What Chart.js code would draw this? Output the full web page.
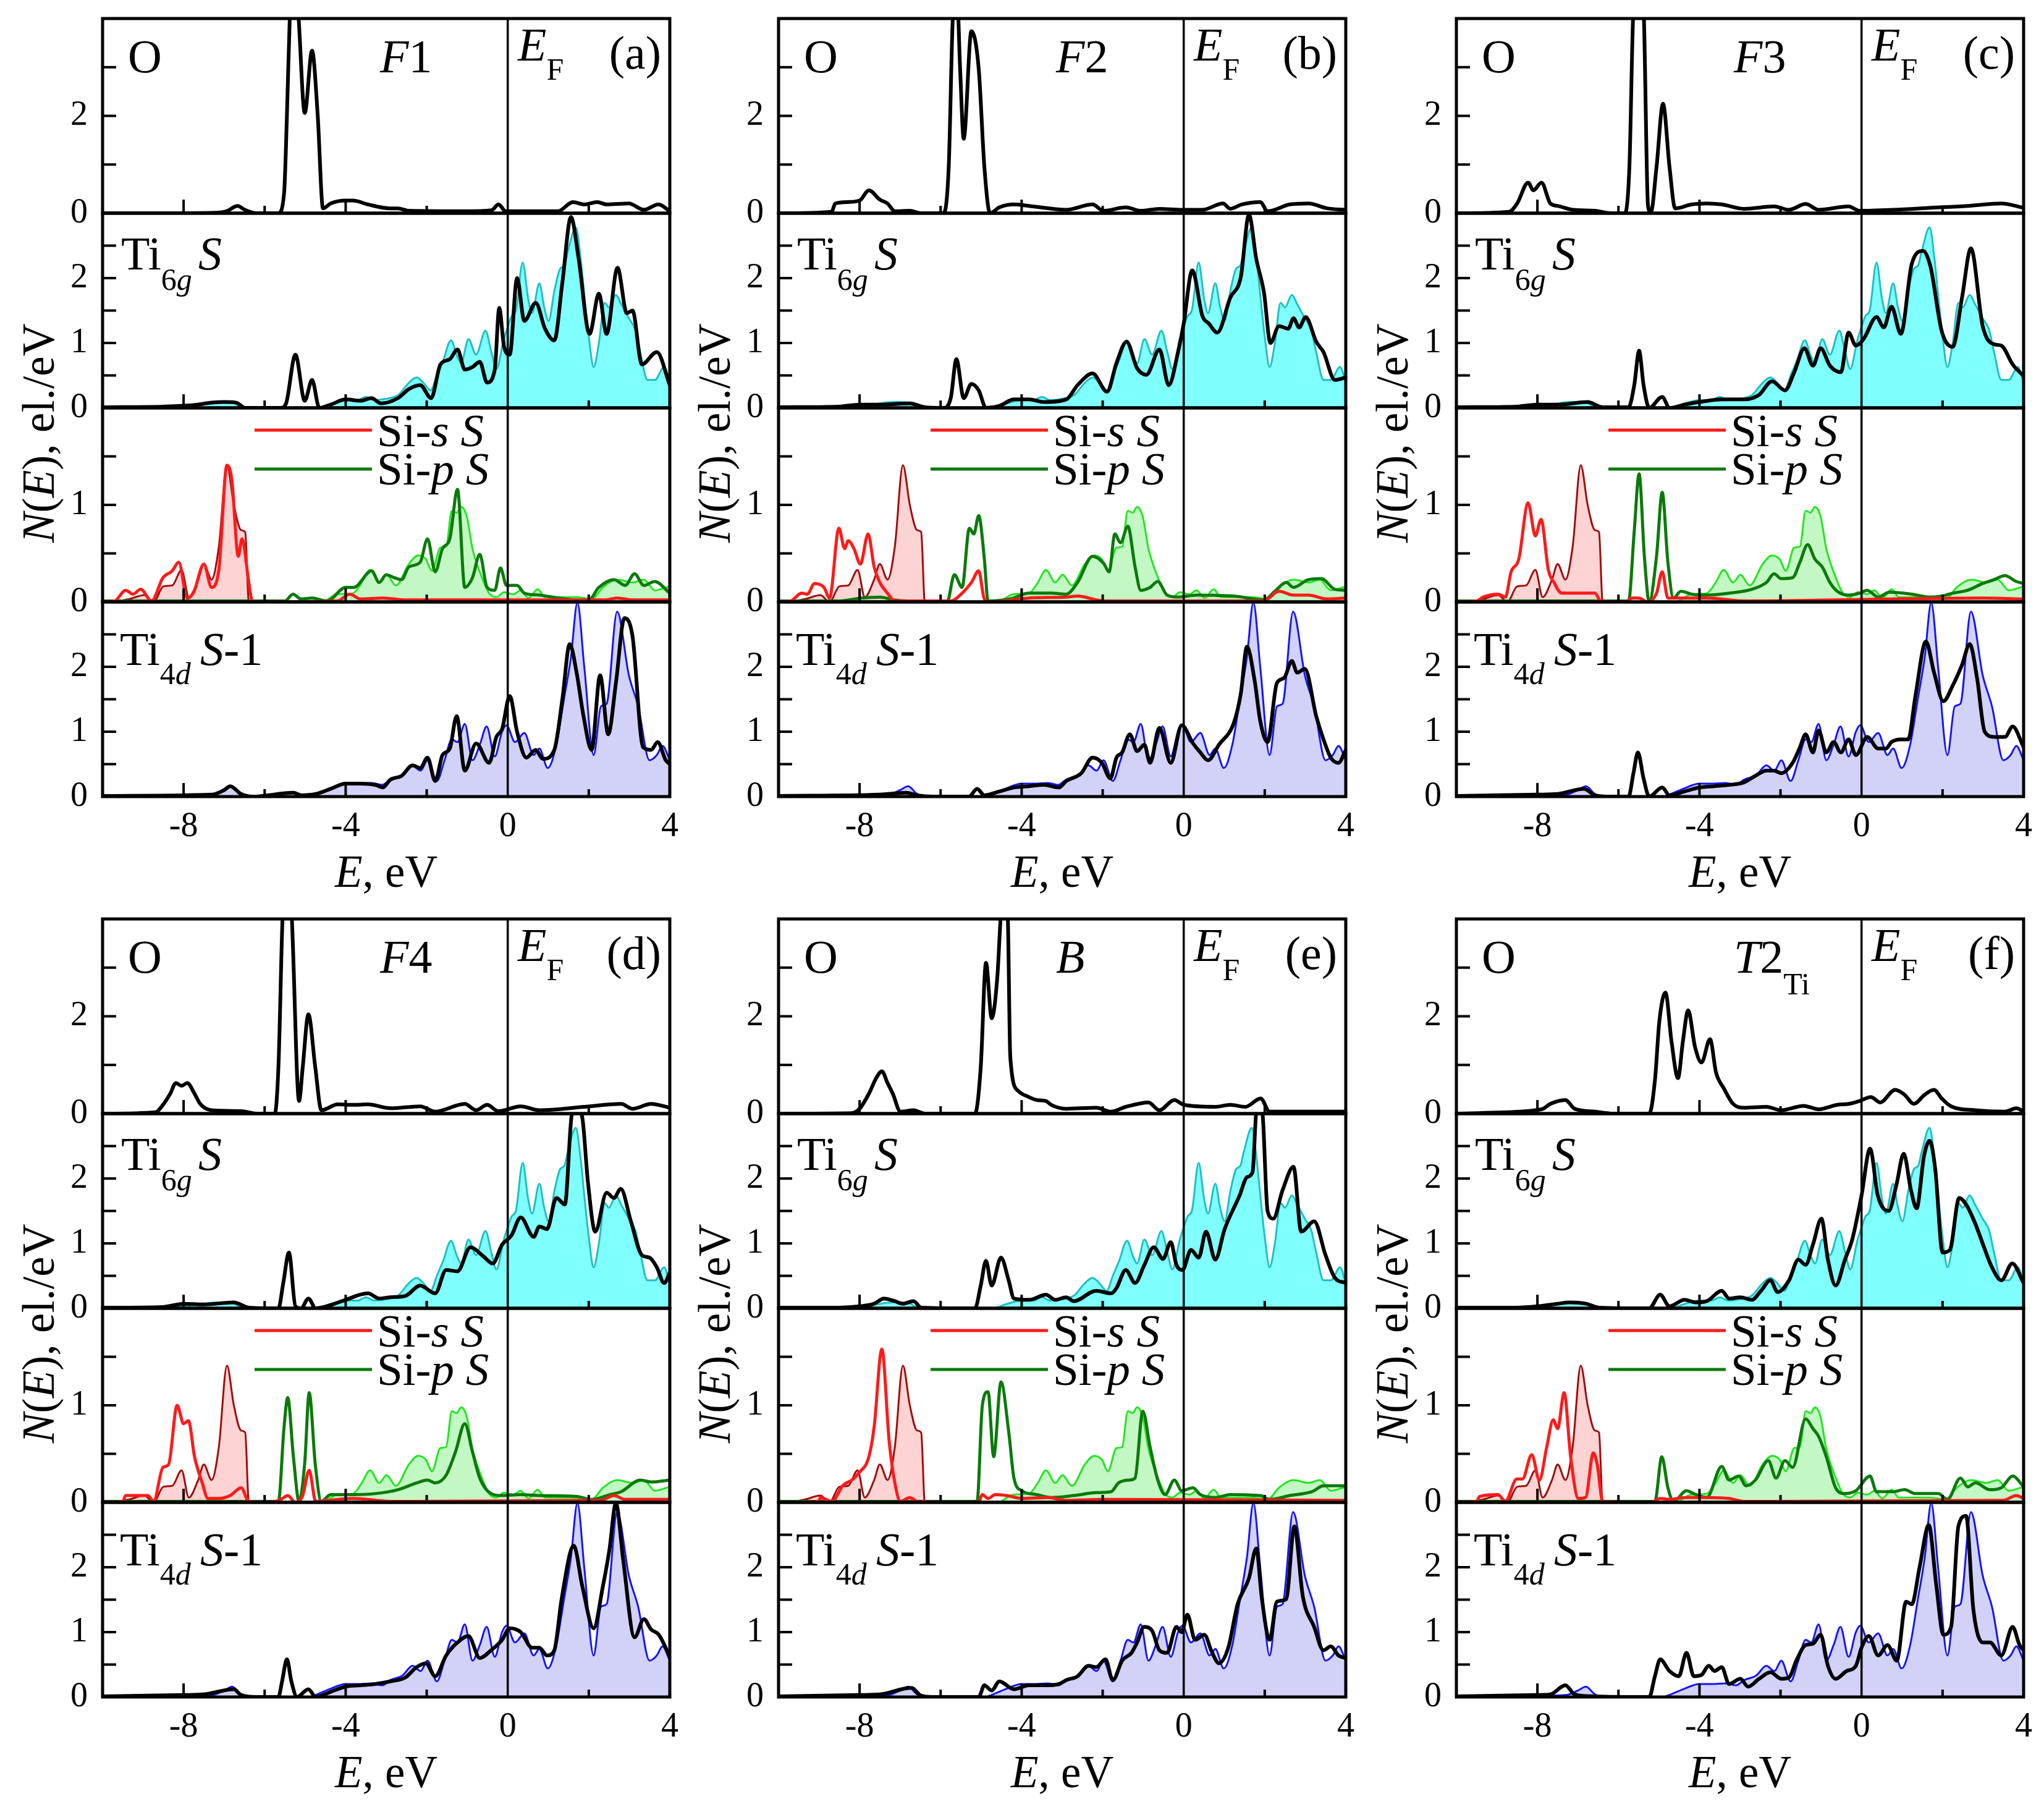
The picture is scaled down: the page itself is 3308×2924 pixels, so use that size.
<!DOCTYPE html>
<html><head><meta charset="utf-8">
<script src="https://cdn.jsdelivr.net/npm/chart.js@4/dist/chart.umd.min.js"></script>
<style>
html,body{margin:0;padding:0;background:#fff;}
#wrap{position:relative;width:3308px;height:2924px;overflow:hidden;background:#fff;}
canvas{position:absolute;}
</style></head><body><div id="wrap"></div>
<script>
// ---------- tick labels / categories ----------
const X_LABELED = [-8, -4, 0, 4];
const X_MARKS = [-8, -6, -4, -2, 2];
const Y_O_LABELS = [0, 2];
const Y_T6_LABELS = [0, 1, 2];
const Y_SI_LABELS = [0, 1];
const Y_T4_LABELS = [0, 1, 2];
const PANEL_LETTERS = ['(a)', '(b)', '(c)', '(d)', '(e)', '(f)'];
const STRUCTURES = ['F1', 'F2', 'F3', 'F4', 'B', 'T2Ti'];

// ---------- reference curves (same in all panels) ----------
const refTi6g = [[-10,0],[-9,0.01],[-8,0.03],[-7.6,0.06],[-7.2,0.09],[-6.8,0.08],[-6.6,0.02],[-6.4,0],[-4.7,0],[-4.4,0.06],[-4.0,0.12],[-3.7,0.12],[-3.5,0.17],[-3.3,0.12],[-3.0,0.14],[-2.7,0.2],[-2.45,0.38],[-2.25,0.47],[-2.1,0.4],[-1.9,0.27],[-1.75,0.5],[-1.6,0.72],[-1.4,1.04],[-1.25,0.8],[-1.15,0.69],[-0.97,1.06],[-0.78,0.82],[-0.55,1.19],[-0.4,0.85],[-0.28,0.6],[-0.1,1.05],[0,1.25],[0.1,1.42],[0.2,1.5],[0.37,2.24],[0.5,1.7],[0.6,1.46],[0.78,1.92],[0.9,1.55],[1.01,1.34],[1.15,1.8],[1.29,2.14],[1.4,2.2],[1.48,2.4],[1.68,2.78],[1.8,2.3],[1.89,1.74],[2.0,1.1],[2.12,0.63],[2.25,1.0],[2.39,1.62],[2.5,1.55],[2.67,1.74],[2.8,1.6],[2.99,1.38],[3.15,1.2],[3.27,0.86],[3.45,0.43],[3.63,0.43],[3.86,0.63],[4,0.39]];
const refTi4d = [[-10,0.01],[-8,0.02],[-7.3,0.03],[-7.0,0.1],[-6.8,0.16],[-6.6,0.05],[-6.4,0],[-4.9,0],[-4.75,0.03],[-4.4,0.12],[-4.0,0.2],[-3.7,0.2],[-3.35,0.21],[-3.1,0.18],[-2.9,0.26],[-2.6,0.33],[-2.35,0.48],[-2.15,0.4],[-1.98,0.56],[-1.75,0.24],[-1.56,0.56],[-1.38,0.88],[-1.24,0.84],[-1.06,1.12],[-0.87,0.56],[-0.69,0.8],[-0.52,1.08],[-0.32,0.62],[-0.14,1.0],[-0.03,1.1],[0.18,0.84],[0.41,0.98],[0.64,0.64],[0.78,0.74],[0.99,0.44],[1.2,0.8],[1.38,1.47],[1.56,2.15],[1.72,2.99],[1.89,1.99],[2.12,0.64],[2.3,1.39],[2.44,1.43],[2.7,2.85],[2.99,1.87],[3.22,1.39],[3.5,0.56],[3.68,0.64],[3.82,0.78],[4,0.56]];
const refSiS = [[-10,0],[-9.6,0.01],[-9.34,0.03],[-8.97,0.07],[-8.74,0],[-8.5,0.16],[-8.28,0.17],[-8.05,0.33],[-7.87,0.05],[-7.64,0.23],[-7.5,0.39],[-7.31,0.23],[-7.13,0.57],[-6.93,1.41],[-6.76,1.0],[-6.58,0.74],[-6.48,0.72],[-6.39,0],[-5,0],[-2,0.01],[4,0.01]];
const refSiP = [[-10,0.01],[-6.4,0.01],[-6.2,0],[-4.6,0],[-4.2,0.08],[-3.82,0.09],[-3.6,0.2],[-3.4,0.33],[-3.17,0.2],[-2.99,0.28],[-2.76,0.17],[-2.44,0.39],[-2.21,0.48],[-2.02,0.44],[-1.87,0.32],[-1.66,0.56],[-1.52,0.57],[-1.38,0.94],[-1.26,0.92],[-1.15,0.98],[-1.01,0.88],[-0.87,0.55],[-0.69,0.31],[-0.46,0.09],[-0.28,0.05],[-0.09,0.1],[0.14,0.08],[0.32,0.12],[0.51,0.04],[0.74,0.13],[0.92,0.05],[1.7,0.05],[2.07,0.03],[2.35,0.15],[2.71,0.23],[3.08,0.2],[3.36,0.23],[3.63,0.12],[4,0.16]];

// ---------- panel (a) F1 ----------
const O_a = [[-10,0],[-8.5,0],[-7.2,0.01],[-6.94,0.04],[-6.67,0.15],[-6.49,0.07],[-6.2,0],[-5.66,0],[-5.52,0.41],[-5.45,2.0],[-5.38,4.0],[-5.28,5.5],[-5.16,4.0],[-5.01,2.06],[-4.83,3.34],[-4.69,2.01],[-4.56,0.1],[-4.37,0.2],[-4.0,0.26],[-3.82,0.26],[-3.45,0.18],[-2.9,0.1],[-2.71,0.1],[-2.44,0.05],[-1.06,0.04],[-0.4,0.06],[-0.23,0.18],[-0.05,0.04],[1.24,0.04],[1.61,0.23],[1.89,0.18],[2.21,0.23],[2.44,0.18],[2.99,0.2],[3.36,0.07],[3.72,0.18],[4,0.04]];
const Ti6g_a = [[-10,0.01],[-8.5,0.02],[-7.8,0.04],[-7.3,0.08],[-7.0,0.09],[-6.7,0.08],[-6.48,0],[-5.6,0],[-5.47,0.07],[-5.24,0.82],[-5.01,0.11],[-4.83,0.43],[-4.65,0],[-4.37,0.05],[-4.0,0.13],[-3.63,0.11],[-3.36,0.15],[-3.13,0.07],[-2.71,0.15],[-2.44,0.29],[-2.16,0.35],[-1.89,0.15],[-1.66,0.67],[-1.43,0.75],[-1.24,0.9],[-1.06,0.59],[-0.87,0.63],[-0.69,0.71],[-0.51,0.39],[-0.32,0.59],[-0.21,1.54],[-0.09,0.94],[0.05,0.82],[0.23,2.0],[0.41,1.34],[0.69,1.62],[0.92,1.22],[1.15,1.04],[1.35,1.94],[1.56,2.94],[1.75,2.3],[2.02,1.14],[2.25,1.76],[2.44,1.14],[2.71,2.16],[2.94,1.46],[3.08,1.5],[3.31,0.67],[3.68,0.86],[4,0.35]];
const SiS_a = [[-10,0],[-9.7,0.01],[-9.43,0.12],[-9.25,0.08],[-9.06,0.13],[-8.79,0.01],[-8.51,0.25],[-8.28,0.32],[-8.12,0.41],[-7.91,0.04],[-7.75,0.1],[-7.5,0.39],[-7.31,0.15],[-7.13,0.33],[-6.93,1.41],[-6.81,1.26],[-6.65,0.47],[-6.56,0.65],[-6.39,0.2],[-6.3,0],[-4.2,0.01],[-3.9,0.08],[-3.63,0.03],[-3.08,0.04],[-2.5,0.02],[0,0.02],[2.4,0.02],[2.7,0.04],[3.1,0.02],[4,0.02]];
const SiP_a = [[-10,0.01],[-5.5,0.01],[-5.3,0.08],[-5.1,0.03],[-4.83,0.04],[-4.46,0.01],[-4.0,0.15],[-3.8,0.15],[-3.36,0.32],[-3.17,0.2],[-3.0,0.28],[-2.8,0.25],[-2.62,0.23],[-2.44,0.36],[-2.16,0.41],[-1.98,0.65],[-1.79,0.31],[-1.61,0.55],[-1.43,0.65],[-1.24,1.16],[-1.06,0.15],[-0.87,0.25],[-0.69,0.49],[-0.51,0.15],[-0.32,0.12],[-0.18,0.35],[-0.03,0.17],[0.23,0.17],[0.41,0.09],[0.78,0.07],[1.24,0.04],[1.98,0.01],[2.25,0.15],[2.62,0.23],[2.9,0.17],[3.13,0.29],[3.36,0.17],[3.63,0.21],[4,0.09]];
const Ti4d_a = [[-10,0.01],[-7.3,0.03],[-7.0,0.1],[-6.85,0.16],[-6.58,0.04],[-6.3,0],[-5.29,0.06],[-5.1,0.02],[-4.74,0.04],[-4.37,0.12],[-4.0,0.2],[-3.63,0.2],[-3.27,0.18],[-3.08,0.14],[-2.9,0.26],[-2.62,0.32],[-2.35,0.48],[-2.16,0.44],[-1.98,0.6],[-1.79,0.24],[-1.61,0.64],[-1.43,0.74],[-1.26,1.24],[-1.06,0.4],[-0.78,0.82],[-0.46,0.52],[-0.28,0.92],[-0.14,1.04],[0.05,1.55],[0.23,1.0],[0.46,0.6],[0.69,0.72],[0.87,0.58],[1.15,0.72],[1.35,1.51],[1.53,2.35],[1.7,1.91],[1.87,1.24],[2.07,0.72],[2.28,1.87],[2.48,0.96],[2.67,1.75],[2.88,2.75],[3.08,2.47],[3.34,0.76],[3.54,0.72],[3.7,0.84],[3.9,0.56],[4,0.5]];

// ---------- panel (b) F2 ----------
const O_b = [[-10,0],[-8.69,0.03],[-8.6,0.2],[-8.28,0.23],[-8.0,0.26],[-7.77,0.47],[-7.5,0.28],[-7.31,0.2],[-7.13,0.04],[-6.76,0.05],[-6.48,0],[-5.93,0],[-5.8,0.95],[-5.7,4.0],[-5.6,4.6],[-5.52,3.0],[-5.43,1.53],[-5.24,3.74],[-5.06,2.97],[-4.92,0.95],[-4.78,0],[-4.55,0.12],[-4.19,0.18],[-3.82,0.15],[-2.9,0.07],[-2.25,0.18],[-1.98,0.05],[-1.43,0.12],[-1.06,0.05],[-0.6,0.09],[-0.05,0.07],[0.46,0.07],[0.97,0.2],[1.15,0.09],[1.43,0.18],[1.89,0.23],[2.07,0.04],[2.62,0.18],[3.08,0.2],[3.54,0.1],[4,0.07]];
const Ti6g_b = [[-10,0.01],[-8.5,0.02],[-8,0.05],[-7.5,0.05],[-6.76,0.07],[-6.39,0.01],[-5.93,0],[-5.75,0.15],[-5.61,0.75],[-5.43,0.15],[-5.24,0.37],[-5.06,0.27],[-4.88,0],[-4.55,0.03],[-4.19,0.13],[-3.82,0.13],[-3.45,0.09],[-2.9,0.13],[-2.62,0.35],[-2.25,0.53],[-1.89,0.25],[-1.66,0.69],[-1.41,1.02],[-1.15,0.61],[-0.92,0.51],[-0.6,0.9],[-0.37,0.35],[-0.14,0.86],[0,1.3],[0.21,2.12],[0.46,1.42],[0.62,1.3],[0.83,1.16],[1.15,1.7],[1.41,2.02],[1.61,2.98],[1.79,2.3],[1.98,1.78],[2.14,1.0],[2.35,1.26],[2.58,1.22],[2.71,1.38],[2.85,1.24],[3.01,1.4],[3.27,1.02],[3.45,0.86],[3.73,0.43],[4,0.47]];
const SiS_b = [[-10,0],[-9.7,0.01],[-9.43,0.09],[-9.29,0.08],[-9.11,0.19],[-8.88,0.15],[-8.74,0.04],[-8.51,0.76],[-8.37,0.55],[-8.28,0.63],[-8.14,0.55],[-7.98,0.39],[-7.79,0.7],[-7.64,0.36],[-7.5,0.2],[-7.31,0.09],[-7.13,0.01],[-5.75,0.01],[-5.47,0.09],[-5.24,0.2],[-5.06,0.32],[-4.92,0.03],[-4.74,0],[-3.82,0.04],[-2.9,0.05],[-2.62,0.06],[-1.98,0.01],[1.98,0.01],[2.35,0.11],[2.71,0.07],[3.08,0.07],[3.54,0.03],[4,0.04]];
const SiP_b = [[-10,0.01],[-8.5,0.01],[-7.96,0.04],[-7.5,0.05],[-7.13,0.02],[-5.84,0],[-5.66,0.28],[-5.47,0.15],[-5.29,0.76],[-5.18,0.7],[-5.06,0.89],[-4.92,0.44],[-4.83,0.01],[-4.28,0.03],[-3.82,0.09],[-3.27,0.09],[-2.9,0.08],[-2.62,0.2],[-2.25,0.47],[-1.98,0.4],[-1.84,0.31],[-1.7,0.7],[-1.56,0.61],[-1.38,0.78],[-1.2,0.36],[-1.06,0.12],[-0.83,0.15],[-0.64,0.21],[-0.41,0.07],[-0.14,0.05],[0.32,0.07],[1.24,0.06],[1.98,0.02],[2.25,0.11],[2.53,0.2],[2.71,0.15],[3.08,0.23],[3.4,0.24],[3.73,0.13],[4,0.12]];
const Ti4d_b = [[-10,0.01],[-7.5,0.03],[-6.85,0.06],[-6.58,0.02],[-6.2,0],[-5.3,0],[-5.1,0.12],[-4.92,0.02],[-4.55,0.08],[-4.19,0.14],[-3.82,0.16],[-3.45,0.18],[-3.08,0.14],[-2.9,0.24],[-2.53,0.36],[-2.25,0.6],[-2.02,0.52],[-1.81,0.28],[-1.66,0.6],[-1.52,0.68],[-1.33,0.96],[-1.15,0.7],[-0.97,0.8],[-0.83,0.52],[-0.6,1.06],[-0.32,0.52],[-0.05,1.1],[0.23,0.82],[0.41,0.68],[0.6,0.56],[0.87,0.8],[1.24,1.14],[1.41,1.59],[1.56,2.31],[1.75,1.79],[1.89,1.16],[2.07,0.84],[2.3,1.75],[2.48,1.83],[2.67,2.09],[2.8,1.91],[2.99,1.97],[3.27,1.24],[3.45,0.88],[3.63,0.6],[3.82,0.52],[4,0.72]];

// ---------- panel (c) F3 ----------
const O_c = [[-10,0],[-8.7,0.03],[-8.5,0.2],[-8.23,0.63],[-8.1,0.47],[-7.9,0.63],[-7.68,0.2],[-7.5,0.15],[-7.13,0.07],[-6.58,0.05],[-6.2,0],[-5.84,0],[-5.73,0.95],[-5.63,4.2],[-5.5,4.8],[-5.38,4.2],[-5.27,0.15],[-5.2,0.02],[-5.06,0.95],[-4.9,2.25],[-4.74,0.95],[-4.6,0.1],[-4.19,0.18],[-3.82,0.2],[-3.45,0.18],[-2.9,0.09],[-2.16,0.14],[-1.79,0.07],[-1.38,0.19],[-1.06,0.07],[-0.32,0.14],[-0.05,0.05],[0.78,0.07],[1.7,0.11],[2.62,0.15],[3.45,0.2],[4,0.11]];
const Ti6g_c = [[-10,0.01],[-8.5,0.02],[-8,0.05],[-7.5,0.05],[-6.76,0.09],[-6.39,0.01],[-5.75,0.01],[-5.61,0.35],[-5.49,0.88],[-5.38,0.35],[-5.24,0],[-4.92,0.17],[-4.74,0],[-4.37,0.05],[-4.0,0.09],[-3.45,0.13],[-2.9,0.13],[-2.53,0.2],[-2.21,0.41],[-1.89,0.27],[-1.66,0.55],[-1.41,0.92],[-1.2,0.65],[-1.01,0.92],[-0.78,0.65],[-0.51,0.55],[-0.32,1.16],[-0.14,0.96],[0.05,1.06],[0.37,1.4],[0.55,1.24],[0.74,1.56],[0.97,1.14],[1.24,2.22],[1.52,2.42],[1.7,2.18],[1.98,1.18],[2.25,0.94],[2.48,1.7],[2.7,2.46],[2.99,1.26],[3.27,0.98],[3.45,0.96],[3.73,0.67],[4,0.49]];
const SiS_c = [[-10,0],[-9.5,0.01],[-9.34,0.05],[-8.97,0.08],[-8.79,0.05],[-8.65,0.31],[-8.46,0.44],[-8.23,1.02],[-8.05,0.68],[-7.91,0.85],[-7.73,0.33],[-7.59,0.2],[-7.4,0.09],[-7.04,0.09],[-6.58,0.09],[-6.44,0.01],[-5.84,0],[-5.66,0.04],[-5.49,0.04],[-5.29,0],[-5.06,0.09],[-4.92,0.31],[-4.78,0.04],[-4.37,0.04],[-3.82,0.04],[-2.9,0.01],[3.0,0.04],[4,0.03]];
const SiP_c = [[-10,0.01],[-5.75,0.01],[-5.61,0.73],[-5.49,1.32],[-5.36,0.47],[-5.24,0],[-5.06,0.47],[-4.92,1.13],[-4.78,0.41],[-4.64,0.04],[-4.46,0.11],[-4.19,0.08],[-3.82,0.07],[-3.27,0.09],[-2.71,0.13],[-2.35,0.2],[-2.16,0.29],[-1.98,0.24],[-1.7,0.25],[-1.52,0.41],[-1.33,0.59],[-1.15,0.44],[-0.97,0.36],[-0.78,0.2],[-0.6,0.11],[-0.32,0.07],[-0.05,0.09],[0.14,0.12],[0.41,0.05],[0.69,0.1],[1.24,0.08],[1.7,0.05],[1.98,0.06],[2.25,0.09],[2.62,0.12],[2.99,0.19],[3.27,0.23],[3.54,0.27],[3.82,0.21],[4,0.19]];
const Ti4d_c = [[-10,0.01],[-8,0.03],[-7.5,0.04],[-6.85,0.12],[-6.58,0.02],[-6.2,0],[-5.75,0],[-5.63,0.36],[-5.52,0.68],[-5.38,0.28],[-5.24,0],[-4.92,0.14],[-4.74,0.02],[-4.37,0.08],[-4.0,0.14],[-3.63,0.16],[-3.27,0.18],[-2.9,0.22],[-2.62,0.32],[-2.35,0.4],[-2.16,0.4],[-1.98,0.36],[-1.7,0.52],[-1.52,0.76],[-1.38,0.96],[-1.2,0.68],[-1.06,1.02],[-0.87,0.68],[-0.69,0.84],[-0.51,0.68],[-0.32,0.88],[-0.14,0.64],[0.14,0.92],[0.41,0.74],[0.6,0.74],[0.74,0.84],[0.97,0.88],[1.15,0.88],[1.33,1.55],[1.59,2.39],[1.79,1.91],[2.02,1.47],[2.25,1.71],[2.48,2.03],[2.67,2.35],[2.85,1.83],[3.04,1.0],[3.27,0.92],[3.54,0.92],[3.73,1.08],[4,0.76]];

// ---------- panel (d) F4 ----------
const O_d = [[-10,0],[-8.69,0.03],[-8.51,0.18],[-8.33,0.41],[-8.19,0.63],[-8.05,0.57],[-7.91,0.63],[-7.73,0.41],[-7.59,0.2],[-7.31,0.07],[-6.58,0.05],[-6.2,0],[-5.75,0],[-5.66,0.95],[-5.55,4.2],[-5.45,4.8],[-5.34,4.2],[-5.15,0.26],[-5.06,0.95],[-4.92,2.04],[-4.75,0.95],[-4.6,0.07],[-4.19,0.19],[-3.82,0.18],[-3.45,0.19],[-2.9,0.11],[-2.16,0.15],[-1.79,0.04],[-1.06,0.2],[-0.78,0.07],[-0.51,0.18],[-0.23,0.05],[0.32,0.15],[0.78,0.07],[1.89,0.14],[2.8,0.2],[3.08,0.1],[3.54,0.2],[4,0.12]];
const Ti6g_d = [[-10,0.01],[-8.5,0.02],[-8,0.07],[-7.5,0.06],[-6.76,0.09],[-6.39,0.01],[-5.66,0],[-5.54,0.39],[-5.4,0.86],[-5.24,0.03],[-5.1,0],[-4.92,0.15],[-4.74,0],[-4.37,0.05],[-4.0,0.13],[-3.45,0.23],[-3.17,0.15],[-2.9,0.17],[-2.53,0.19],[-2.16,0.35],[-1.79,0.23],[-1.52,0.59],[-1.24,0.57],[-0.92,0.94],[-0.6,0.8],[-0.37,0.69],[-0.14,0.98],[0.09,1.12],[0.32,1.4],[0.64,1.1],[0.78,1.26],[0.97,1.22],[1.2,1.7],[1.41,1.6],[1.58,2.98],[1.7,3.1],[1.84,2.94],[1.98,1.94],[2.16,1.18],[2.44,1.78],[2.62,1.7],[2.79,1.84],[3.04,1.34],[3.31,0.82],[3.5,0.78],[3.68,0.63],[3.86,0.39],[4,0.55]];
const SiS_d = [[-10,0],[-9.5,0.01],[-9.43,0.07],[-8.88,0.07],[-8.74,0.01],[-8.51,0.36],[-8.37,0.39],[-8.16,1.0],[-8.0,0.81],[-7.88,0.84],[-7.73,0.47],[-7.54,0.2],[-7.4,0.04],[-7.13,0.04],[-6.85,0.07],[-6.58,0.15],[-6.39,0.01],[-5.84,0],[-5.56,0.04],[-5.43,0.07],[-5.24,0],[-5.06,0.07],[-4.9,0.33],[-4.74,0.01],[-3.82,0.04],[-2.9,0.01],[2.3,0.02],[2.62,0.07],[2.9,0.03],[4,0.03]];
const SiP_d = [[-10,0.01],[-5.66,0.01],[-5.52,0.78],[-5.43,1.08],[-5.29,0.47],[-5.15,0.01],[-5.01,0.41],[-4.9,1.13],[-4.75,0.39],[-4.6,0.01],[-4.37,0.08],[-3.82,0.08],[-3.27,0.09],[-2.71,0.13],[-2.25,0.2],[-1.98,0.23],[-1.79,0.2],[-1.52,0.28],[-1.29,0.52],[-1.06,0.81],[-0.87,0.52],[-0.69,0.25],[-0.41,0.09],[-0.14,0.07],[0.32,0.08],[0.78,0.07],[1.7,0.06],[2.07,0.03],[2.53,0.08],[2.8,0.11],[3.27,0.23],[3.54,0.21],[4,0.23]];
const Ti4d_d = [[-10,0.01],[-8,0.03],[-7.5,0.04],[-6.76,0.12],[-6.58,0.03],[-6.2,0],[-5.66,0],[-5.57,0.24],[-5.45,0.58],[-5.34,0.24],[-5.2,0],[-4.92,0.12],[-4.74,0],[-4.37,0.08],[-4.0,0.16],[-3.63,0.18],[-3.27,0.2],[-2.9,0.24],[-2.53,0.3],[-2.25,0.46],[-2.02,0.52],[-1.79,0.32],[-1.52,0.64],[-1.24,0.84],[-0.97,0.94],[-0.69,0.6],[-0.41,0.72],[-0.14,0.88],[0.05,1.06],[0.32,1.0],[0.6,0.76],[0.78,0.76],[0.97,0.64],[1.15,0.72],[1.33,1.51],[1.63,2.33],[1.84,1.71],[2.12,1.06],[2.35,1.71],[2.51,2.27],[2.67,2.99],[2.85,2.11],[3.13,0.92],[3.36,1.2],[3.54,1.04],[3.73,0.96],[4,0.62]];

// ---------- panel (e) B ----------
const O_e = [[-10,0],[-8.2,0.01],[-8.0,0.1],[-7.77,0.41],[-7.59,0.73],[-7.45,0.87],[-7.31,0.63],[-7.18,0.41],[-6.99,0.04],[-6.67,0.07],[-6.39,0],[-5.15,0],[-5.01,0.95],[-4.88,3.1],[-4.74,1.96],[-4.6,2.81],[-4.52,4.0],[-4.43,4.8],[-4.34,4.0],[-4.28,1.16],[-4.09,0.47],[-3.82,0.34],[-3.63,0.28],[-3.4,0.26],[-3.27,0.18],[-2.9,0.1],[-2.16,0.12],[-1.79,0.04],[-1.43,0.14],[-0.87,0.23],[-0.6,0.07],[-0.23,0.28],[0,0.18],[0.78,0.14],[1.15,0.18],[1.52,0.14],[1.9,0.31],[2.12,0.04],[4,0.04]];
const Ti6g_e = [[-10,0.01],[-8.5,0.01],[-8,0.03],[-7.64,0.07],[-7.4,0.15],[-7.13,0.11],[-6.94,0.07],[-6.67,0.11],[-6.48,0.01],[-5.15,0],[-5.01,0.35],[-4.88,0.73],[-4.74,0.35],[-4.51,0.78],[-4.32,0.43],[-4.19,0.15],[-3.82,0.13],[-3.4,0.21],[-3.17,0.13],[-2.9,0.17],[-2.71,0.11],[-2.16,0.27],[-1.79,0.23],[-1.66,0.31],[-1.43,0.59],[-1.2,0.39],[-0.97,0.67],[-0.74,0.94],[-0.51,0.76],[-0.32,1.02],[-0.18,0.67],[-0.03,0.59],[0.18,0.9],[0.37,0.78],[0.55,1.18],[0.78,0.75],[1.01,1.22],[1.38,1.74],[1.56,2.02],[1.7,2.1],[1.8,3.05],[1.93,3.05],[2.07,1.5],[2.21,1.38],[2.44,1.82],[2.71,2.18],[2.9,1.18],[3.22,1.34],[3.5,0.82],[3.73,0.47],[4,0.39]];
const SiS_e = [[-10,0],[-9,0.01],[-8.97,0.05],[-8.69,0.01],[-8.6,0.04],[-8.42,0.17],[-8.19,0.23],[-8.0,0.31],[-7.77,0.47],[-7.64,0.78],[-7.45,1.58],[-7.27,0.63],[-7.13,0.2],[-6.99,0.01],[-6.76,0.05],[-6.58,0.01],[-5.06,0],[-4.97,0.08],[-4.83,0.04],[-4.65,0.08],[-4.37,0.07],[-4.0,0.04],[-3.36,0.05],[-2.9,0.02],[-1.98,0.03],[4,0.02]];
const SiP_e = [[-10,0.01],[-5.1,0.01],[-4.97,1.0],[-4.83,1.14],[-4.69,0.47],[-4.51,1.24],[-4.32,0.73],[-4.19,0.25],[-4.0,0.12],[-3.63,0.08],[-3.27,0.05],[-2.71,0.07],[-2.16,0.1],[-1.79,0.11],[-1.61,0.2],[-1.33,0.23],[-1.2,0.25],[-1.01,0.94],[-0.83,0.57],[-0.64,0.23],[-0.46,0.08],[-0.23,0.23],[-0.05,0.12],[0.23,0.15],[0.41,0.08],[0.78,0.05],[1.15,0.08],[1.89,0.07],[2.12,0.03],[2.62,0.07],[3.17,0.11],[3.45,0.17],[4,0.17]];
const Ti4d_e = [[-10,0.01],[-8,0.03],[-7.5,0.04],[-6.72,0.14],[-6.48,0.02],[-6.2,0],[-5.06,0],[-4.92,0.18],[-4.74,0.1],[-4.55,0.24],[-4.19,0.12],[-3.82,0.18],[-3.45,0.18],[-3.08,0.2],[-2.9,0.26],[-2.62,0.32],[-2.35,0.48],[-2.16,0.46],[-1.93,0.58],[-1.75,0.26],[-1.52,0.56],[-1.29,0.68],[-1.15,0.84],[-0.98,1.08],[-0.78,1.02],[-0.6,0.72],[-0.41,0.68],[-0.18,1.08],[-0.05,1.0],[0.09,1.27],[0.28,0.88],[0.51,0.96],[0.69,0.7],[0.87,0.52],[1.1,0.76],[1.33,1.43],[1.61,1.83],[1.79,2.29],[1.93,1.51],[2.12,0.88],[2.3,1.47],[2.53,1.51],[2.73,2.63],[2.94,1.55],[3.22,1.08],[3.45,0.72],[3.63,0.78],[3.82,0.64],[4,0.6]];

// ---------- panel (f) T2Ti ----------
const O_f = [[-10,0],[-8.42,0.04],[-8.05,0.07],[-7.86,0.1],[-7.68,0.2],[-7.31,0.28],[-7.08,0.1],[-6.58,0.04],[-6.12,0],[-5.24,0],[-5.1,0.68],[-4.99,1.9],[-4.84,2.49],[-4.69,1.48],[-4.53,0.73],[-4.41,1.48],[-4.28,2.12],[-4.11,1.37],[-3.95,1.05],[-3.74,1.53],[-3.59,0.84],[-3.4,0.52],[-3.17,0.2],[-2.9,0.12],[-2.35,0.14],[-1.98,0.07],[-1.43,0.16],[-1.06,0.09],[-0.6,0.18],[-0.32,0.2],[-0.05,0.26],[0.23,0.34],[0.46,0.23],[0.83,0.49],[1.06,0.39],[1.29,0.2],[1.56,0.39],[1.79,0.49],[1.98,0.31],[2.21,0.15],[2.8,0.07],[3.54,0.04],[3.82,0.11],[4,0.04]];
const Ti6g_f = [[-10,0.01],[-8.5,0.01],[-8,0.03],[-7.5,0.07],[-7.2,0.09],[-6.8,0.07],[-6.48,0.01],[-5.24,0],[-4.97,0.21],[-4.74,0.03],[-4.37,0.13],[-4.09,0.09],[-3.82,0.11],[-3.45,0.27],[-3.27,0.15],[-2.99,0.17],[-2.71,0.13],[-2.48,0.27],[-2.25,0.43],[-2.07,0.25],[-1.79,0.43],[-1.56,0.75],[-1.38,0.67],[-1.2,0.98],[-0.99,1.38],[-0.83,0.75],[-0.64,0.35],[-0.41,0.75],[-0.23,1.06],[0,1.74],[0.21,2.46],[0.4,1.74],[0.67,1.5],[0.86,1.9],[1.04,2.38],[1.22,1.82],[1.36,1.54],[1.54,2.34],[1.68,2.58],[1.82,2.14],[2.0,0.86],[2.18,0.9],[2.41,1.7],[2.6,1.58],[2.81,1.3],[3.0,0.98],[3.22,0.63],[3.45,0.43],[3.72,0.69],[4,0.39]];
const SiS_f = [[-10,0],[-9.5,0.01],[-9.43,0.06],[-8.97,0.08],[-8.79,0.01],[-8.51,0.24],[-8.37,0.24],[-8.14,0.49],[-7.95,0.23],[-7.77,0.57],[-7.61,0.85],[-7.5,0.76],[-7.34,1.13],[-7.18,0.47],[-6.99,0.04],[-6.81,0.05],[-6.62,0.51],[-6.52,0.38],[-6.39,0.01],[-5.2,0],[-4.97,0.04],[-4.74,0.03],[-4.37,0.05],[-3.82,0.05],[-3.27,0.04],[-2.9,0.01],[3.5,0.02],[3.82,0.07],[4,0.04]];
const SiP_f = [[-10,0.01],[-5.1,0.01],[-4.93,0.47],[-4.78,0.15],[-4.64,0.01],[-4.32,0.12],[-4.09,0.08],[-3.82,0.05],[-3.45,0.37],[-3.27,0.23],[-3.03,0.27],[-2.85,0.17],[-2.62,0.23],[-2.3,0.43],[-2.11,0.25],[-1.89,0.43],[-1.7,0.36],[-1.38,0.86],[-1.2,0.76],[-1.06,0.68],[-0.87,0.47],[-0.64,0.15],[-0.41,0.09],[-0.14,0.12],[0.21,0.27],[0.37,0.11],[0.78,0.11],[1.06,0.13],[1.33,0.09],[1.89,0.09],[2.12,0.03],[2.44,0.25],[2.62,0.16],[2.81,0.2],[3.17,0.13],[3.45,0.15],[3.73,0.27],[4,0.16]];
const Ti4d_f = [[-10,0.01],[-8,0.03],[-7.68,0.04],[-7.31,0.18],[-7.08,0.04],[-6.6,0.01],[-5.24,0],[-5.1,0.32],[-4.97,0.58],[-4.74,0.4],[-4.51,0.32],[-4.32,0.68],[-4.14,0.32],[-3.95,0.34],[-3.77,0.48],[-3.63,0.4],[-3.45,0.46],[-3.27,0.2],[-2.99,0.28],[-2.8,0.16],[-2.53,0.28],[-2.25,0.38],[-1.98,0.28],[-1.79,0.3],[-1.61,0.56],[-1.38,0.8],[-1.2,0.82],[-1.01,0.96],[-0.83,0.48],[-0.64,0.28],[-0.37,0.4],[-0.14,0.48],[0,0.76],[0.18,0.94],[0.41,0.64],[0.64,0.8],[0.87,0.56],[1.1,1.47],[1.24,1.43],[1.43,1.99],[1.66,2.65],[1.84,1.75],[2.02,0.96],[2.21,1.08],[2.39,2.63],[2.58,2.79],[2.76,1.35],[2.99,0.84],[3.17,0.84],[3.45,0.64],[3.73,1.08],[3.9,0.8],[4,0.72]];

const PANEL_DATA = [
  {O:O_a, T6:Ti6g_a, SS:SiS_a, SP:SiP_a, T4:Ti4d_a},
  {O:O_b, T6:Ti6g_b, SS:SiS_b, SP:SiP_b, T4:Ti4d_b},
  {O:O_c, T6:Ti6g_c, SS:SiS_c, SP:SiP_c, T4:Ti4d_c},
  {O:O_d, T6:Ti6g_d, SS:SiS_d, SP:SiP_d, T4:Ti4d_d},
  {O:O_e, T6:Ti6g_e, SS:SiS_e, SP:SiP_e, T4:Ti4d_e},
  {O:O_f, T6:Ti6g_f, SS:SiS_f, SP:SiP_f, T4:Ti4d_f},
];

// ---------- layout (page pixels) ----------
const FONT = '"Liberation Serif", "Times New Roman", serif';
const AREA_W = 918, AREA_H = 1259;
const PAD_L = 166, PAD_R = 20, MARGIN = 200, X_AXIS_H = 200;
const GEOM = [[166,30],[1260,30],[2357,30],[166,1487],[1260,1487],[2357,1487]];
const MAIN = 76, SUB = 50, TICK = 56, TITLE = 73, LEG = 75;

function fontOf(s){ return (s.it ? 'italic ' : '') + (s.size || MAIN) + 'px ' + FONT; }
function richWidth(ctx, segs){ let w = 0; for (const s of segs){ ctx.font = fontOf(s); w += ctx.measureText(s.t).width; } return w; }
function drawRich(ctx, x, y, segs, align){
  const w = richWidth(ctx, segs);
  let cx = align === 'right' ? x - w : (align === 'center' ? x - w / 2 : x);
  ctx.textAlign = 'left'; ctx.textBaseline = 'alphabetic'; ctx.fillStyle = '#000';
  for (const s of segs){ ctx.font = fontOf(s); ctx.fillText(s.t, cx, y + (s.dy || 0)); cx += ctx.measureText(s.t).width; }
}
function structSegs(name){
  if (name === 'T2Ti') return [{t:'T',it:1},{t:'2'},{t:'Ti',size:SUB,dy:35}];
  return [{t:name[0],it:1},{t:name.slice(1)}];
}
function line(ctx,x1,y1,x2,y2){ ctx.beginPath(); ctx.moveTo(x1,y1); ctx.lineTo(x2,y2); ctx.stroke(); }
const pts = arr => arr.map(p => ({x:p[0], y:p[1]}));

function ds(data, color, width, fillColor){
  return {data: pts(data), borderColor: color, borderWidth: width, pointRadius: 0,
    cubicInterpolationMode: 'monotone', fill: fillColor ? 'origin' : false, backgroundColor: fillColor || 'transparent'};
}

// band k: 0 = O, 1 = Ti6g, 2 = Si, 3 = Ti4d
const BAND_Y = [
  {max:4, step:1,   labels:Y_O_LABELS},
  {max:3, step:0.5, labels:Y_T6_LABELS},
  {max:2, step:0.5, labels:Y_SI_LABELS},
  {max:3, step:0.5, labels:Y_T4_LABELS},
];

function bandDatasets(P, k){
  if (k === 0) return [ds(P.O, '#000', 6)];
  if (k === 1) return [ds(P.T6, '#000', 6), ds(refTi6g, '#1fbfc4', 3, '#80ffff')];
  if (k === 2) return [ds(P.SS, '#ff1a1a', 5), ds(P.SP, '#0b7a0b', 5), ds(refSiP, '#22e622', 3, '#c3f7c3'), ds(refSiS, '#a00c0c', 3, '#fdd3d3')];
  return [ds(P.T4, '#000', 6), ds(refTi4d, '#1414ff', 3, '#d2d2f8')];
}

function bandDecor(pi, k){
  return {
    id: 'banddecor',
    afterDatasetsDraw(chart){
      const ctx = chart.ctx, a = chart.chartArea, xs = chart.scales.x, ys = chart.scales.y;
      const L = a.left, T = a.top, Bm = a.bottom;
      ctx.save();
      ctx.strokeStyle = '#000'; ctx.lineCap = 'butt';
      ctx.lineWidth = 3.5; const x0 = xs.getPixelForValue(0); line(ctx, x0, T, x0, Bm);
      ctx.lineWidth = 4;
      for (const t of ys.ticks){ if (t.value <= ys.min || t.value >= ys.max) continue; const yy = ys.getPixelForValue(t.value); line(ctx, L, yy, L + 22, yy); }
      for (const v of X_MARKS){ const xx = xs.getPixelForValue(v); const len = X_LABELED.includes(v) ? 22 : 12; line(ctx, xx, Bm, xx, Bm - len); }
      ctx.lineWidth = 5;
      ctx.strokeRect(L, T, a.right - L, Bm - T);
      if (k === 0){
        drawRich(ctx, L + 41, T + 87, [{t:'O'}]);
        drawRich(ctx, L + 449, T + 87, structSegs(STRUCTURES[pi]));
        drawRich(ctx, L + 672, T + 68, [{t:'E',it:1},{t:'F',size:SUB,dy:31}]);
        drawRich(ctx, L + 904, T + 81, [{t:PANEL_LETTERS[pi]}], 'right');
      } else if (k === 1){
        drawRich(ctx, L + 30, T + 91, [{t:'Ti'},{t:'6',size:SUB,dy:33},{t:'g',size:SUB,dy:33,it:1}]);
        drawRich(ctx, L + 155, T + 91, [{t:'S',it:1}]);
      } else if (k === 2){
        ctx.lineWidth = 5;
        ctx.strokeStyle = '#ff1a1a'; line(ctx, L + 246, T + 36, L + 436, T + 36);
        ctx.strokeStyle = '#0b7a0b'; line(ctx, L + 246, T + 99, L + 436, T + 99);
        drawRich(ctx, L + 444, T + 62, [{t:'Si-',size:LEG},{t:'s',size:LEG,it:1},{t:' ',size:LEG},{t:'S',size:LEG,it:1}]);
        drawRich(ctx, L + 444, T + 124, [{t:'Si-',size:LEG},{t:'p',size:LEG,it:1},{t:' ',size:LEG},{t:'S',size:LEG,it:1}]);
        // vertical axis title, centred slightly below the middle of the whole panel (= top of this band)
        ctx.save();
        ctx.translate(L - 103, T + 41);
        ctx.rotate(-Math.PI / 2);
        drawRich(ctx, 0, 24, [{t:'N',it:1,size:TITLE},{t:'(',size:TITLE},{t:'E',it:1,size:TITLE},{t:'), el./eV',size:TITLE}], 'center');
        ctx.restore();
      } else {
        drawRich(ctx, L + 28, T + 102, [{t:'Ti'},{t:'4',size:SUB,dy:31},{t:'d',size:SUB,dy:31,it:1}]);
        drawRich(ctx, L + 158, T + 102, [{t:'S',it:1},{t:'-1'}]);
        drawRich(ctx, (L + a.right) / 2, Bm + 146, [{t:'E',it:1,size:TITLE},{t:', eV',size:TITLE}], 'center');
      }
      ctx.restore();
    }
  };
}

const charts = [];
const wrap = document.getElementById('wrap');
GEOM.forEach((g, pi) => {
  const P = PANEL_DATA[pi];
  for (let k = 0; k < 4; k++){
    const top = Math.round(g[1] + k * AREA_H / 4), bottom = Math.round(g[1] + (k + 1) * AREA_H / 4);
    const h = bottom - top;
    const last = k === 3;
    const W = PAD_L + AREA_W + PAD_R, H = MARGIN + h + (last ? X_AXIS_H : MARGIN);
    const cv = document.createElement('canvas');
    cv.width = W; cv.height = H;
    cv.style.left = (g[0] - PAD_L) + 'px'; cv.style.top = (top - MARGIN) + 'px';
    cv.style.width = W + 'px'; cv.style.height = H + 'px';
    wrap.appendChild(cv);
    const by = BAND_Y[k];
    const chart = new Chart(cv, {
      type: 'line',
      data: {datasets: bandDatasets(P, k)},
      options: {
        responsive: false, animation: false, devicePixelRatio: 1,
        layout: {padding: {top: MARGIN, right: PAD_R, left: 0, bottom: last ? 0 : MARGIN}},
        plugins: {legend: {display: false}, tooltip: {enabled: false}},
        elements: {line: {borderJoinStyle: 'round', borderCapStyle: 'round'}},
        scales: {
          x: {type:'linear', position:'bottom', min:-10, max:4, display: last,
            grid:{display:false, drawTicks:false}, border:{display:false},
            ticks:{stepSize:2, autoSkip:false, maxRotation:0, padding:16, color:'#000', font:{family:FONT, size:TICK},
              callback:(v) => X_LABELED.includes(v) ? String(v) : ''},
            afterFit:(s) => { s.height = last ? X_AXIS_H : 0; s.paddingLeft = 0; s.paddingRight = 0; }},
          y: {type:'linear', position:'left', min:0, max:by.max,
            grid:{display:false, drawTicks:false}, border:{display:false},
            ticks:{stepSize:by.step, autoSkip:false, padding:24, color:'#000', font:{family:FONT, size:TICK},
              callback:(v) => by.labels.includes(v) ? String(v) : ''},
            afterFit:(s) => { s.width = PAD_L; s.paddingTop = 0; s.paddingBottom = 0; }}
        }
      },
      plugins: [bandDecor(pi, k)]
    });
    charts.push(chart);
  }
});
if (document.fonts && document.fonts.load){
  Promise.all([
    document.fonts.load(MAIN + 'px "Liberation Serif"'),
    document.fonts.load('italic ' + MAIN + 'px "Liberation Serif"')
  ]).then(() => charts.forEach(c => c.update())).catch(() => {});
}
</script>
</body></html>
